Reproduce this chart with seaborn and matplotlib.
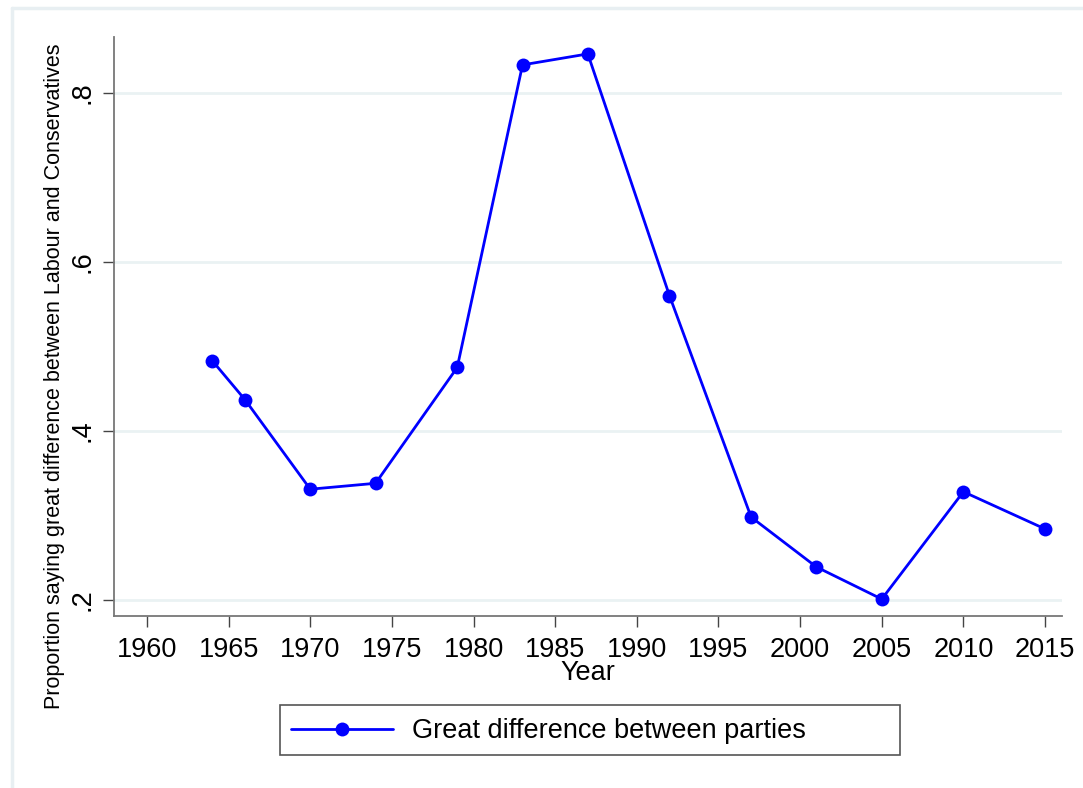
import numpy as np
import pandas as pd
import matplotlib
matplotlib.use("Agg")
import matplotlib.pyplot as plt
import seaborn as sns
from matplotlib.lines import Line2D
from matplotlib.patches import Rectangle

# данные
years = [1964, 1966, 1970, 1974, 1979, 1983, 1987, 1992, 1997, 2001, 2005, 2010, 2015]
share = [0.483, 0.437, 0.331, 0.338, 0.475, 0.833, 0.846, 0.560, 0.298, 0.239, 0.201, 0.328, 0.284]
x_ticks = [1960, 1965, 1970, 1975, 1980, 1985, 1990, 1995, 2000, 2005, 2010, 2015]
y_ticks = [0.2, 0.4, 0.6, 0.8]
y_tick_labels = [".2", ".4", ".6", ".8"]
series_name = "Great difference between parties"

df = pd.DataFrame({"Year": years, "share": share})

sns.set_theme(style="white")
plt.rcParams["font.family"] = ["Liberation Sans", "DejaVu Sans"]
plt.rcParams["text.color"] = "black"
plt.rcParams["xtick.color"] = "black"
plt.rcParams["ytick.color"] = "black"
plt.rcParams["axes.labelcolor"] = "black"

W, H = 1083, 788
fig = plt.figure(figsize=(W / 100, H / 100), dpi=100)
ax = fig.add_axes([114 / W, 1 - 616 / H, (1062 - 114) / W, (616 - 37) / H])

# светлая рамка вокруг графика (как в Stata)
border = "#E8EFF2"
fig.add_artist(Line2D([12 / W, 1], [1 - 8 / H, 1 - 8 / H], color=border, lw=2.5, transform=fig.transFigure))
fig.add_artist(Line2D([12 / W, 12 / W], [0, 1 - 8 / H], color=border, lw=2.5, transform=fig.transFigure))

for y in y_ticks:
    ax.axhline(y, color="#EAF2F3", lw=2, zorder=0)

sns.lineplot(data=df, x="Year", y="share", ax=ax, color="#0000FF", lw=2,
             marker="o", markersize=10, markeredgewidth=0, zorder=3)

ax.set_xlim(1957.98, 2016.04)
ax.set_ylim(0.181, 0.866)
ax.set_xticks(x_ticks)
ax.set_xticklabels([str(t) for t in x_ticks], fontsize=19.5)
ax.set_yticks(y_ticks)
ax.set_yticklabels(y_tick_labels, fontsize=19.5, rotation=90, va="center")
ax.tick_params(axis="both", direction="out", length=8, width=1, color="#444444",
               bottom=True, left=True)
ax.tick_params(axis="x", pad=7)
ax.tick_params(axis="y", pad=5)

for s in ["top", "right"]:
    ax.spines[s].set_visible(False)
for s in ["left", "bottom"]:
    ax.spines[s].set_color("#777777")
    ax.spines[s].set_linewidth(1.3)

ax.set_xlabel("Year", fontsize=19.5, labelpad=-2)
ax.set_ylabel("Proportion saying great difference between Labour and Conservatives", fontsize=15.5)
# у Stata подпись оси Y смещена вниз
ax.yaxis.set_label_coords(-0.052, (616 - 376) / (616 - 37))

# легенда: рамка шире содержимого, как в Stata
fig.add_artist(Rectangle((280 / W, 1 - 755 / H), 620 / W, 50 / H, transform=fig.transFigure,
                         facecolor="white", edgecolor="#555555", lw=1.2, zorder=1))
handle = Line2D([], [], color="#0000FF", lw=2, marker="o", markersize=10, markeredgewidth=0)
leg = fig.legend([handle], [series_name], loc="center left", bbox_to_anchor=(283 / W, 1 - 731 / H),
                 fontsize=19.5, frameon=False, handlelength=3.75, handletextpad=0.7,
                 borderpad=0.3, borderaxespad=0)
leg.set_zorder(2)

fig.savefig("out.png", dpi=100, facecolor="white")
